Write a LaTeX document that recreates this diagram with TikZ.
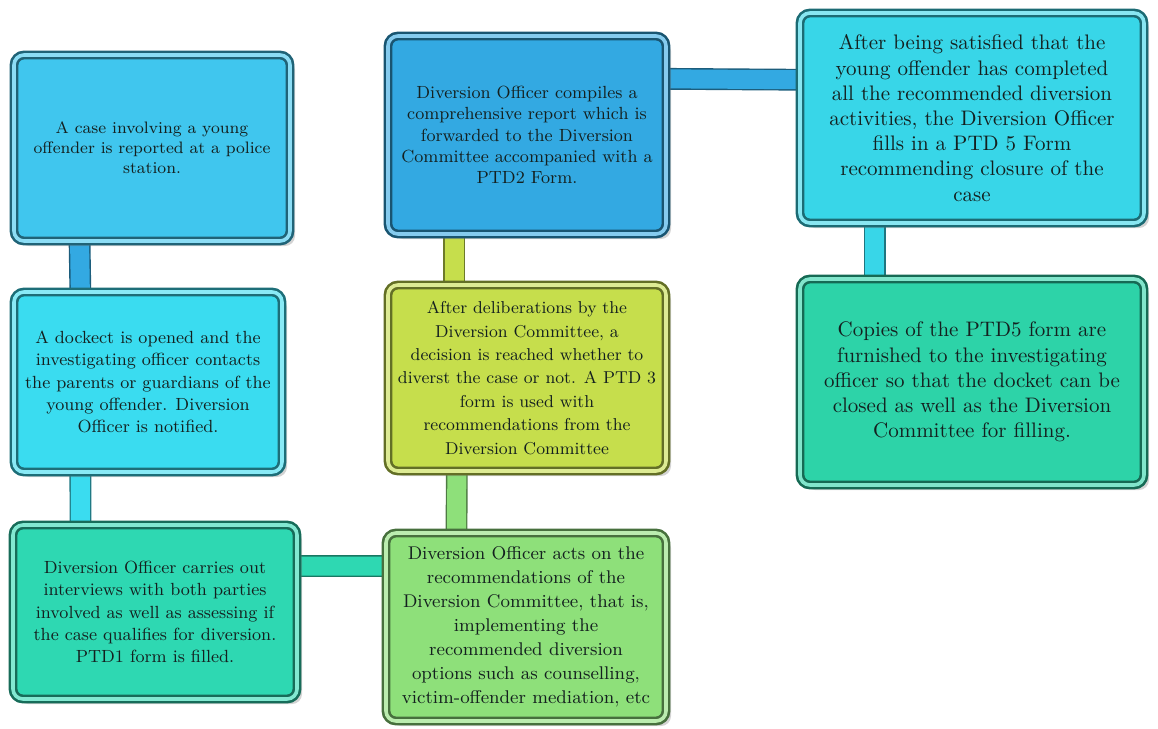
\documentclass[tikz,border=0pt]{standalone}
\usetikzlibrary{shadows,backgrounds,calc}

\definecolor{boxA}{HTML}{40C6EE}
\definecolor{boxB}{HTML}{3ADCF0}
\definecolor{boxC}{HTML}{2ED8B2}
\definecolor{boxD}{HTML}{33A9E2}
\definecolor{boxE}{HTML}{C6DE4C}
\definecolor{boxF}{HTML}{8EE07A}
\definecolor{boxG}{HTML}{38D6E8}
\definecolor{boxH}{HTML}{2DD3A8}
\definecolor{ink}{HTML}{14201F}

\tikzset{
    stepbox/.style={rectangle, rounded corners=5pt, fill=#1, draw=#1!50!black,
        double=#1!60!white, double distance=1.8pt, line width=1.3pt,
        align=center, text=ink, inner sep=2pt,
        drop shadow={opacity=0.35, shadow xshift=2.5pt, shadow yshift=-2.5pt}},
    bar/.style={draw=#1!55!black, double=#1, double distance=9.5pt, line width=0.7pt}
}

\begin{document}
\begin{tikzpicture}[x=0.5pt,y=-0.5pt]
        \useasboundingbox (0,0) rectangle (1158,729);
        % Columna izquierda
            \node[stepbox=boxA, minimum width=138pt, minimum height=93pt,
                font=\fontsize{8.3}{10}\selectfont] (report) at (152,148)
                {A case involving a young\\offender is reported at a police\\station.};
            \node[stepbox=boxB, minimum width=134pt, minimum height=90pt,
                font=\fontsize{8.8}{11.2}\selectfont] (docket) at (148,382)
                {A dockect is opened and the\\investigating officer contacts\\the parents or guardians of the\\young offender. Diversion\\Officer is notified.};
            \node[stepbox=boxC, minimum width=142pt, minimum height=87pt,
                font=\fontsize{8.8}{11.2}\selectfont] (interview) at (155,612)
                {Diversion Officer carries out\\interviews with both parties\\involved as well as assessing if\\the case qualifies for diversion.\\PTD1 form is filled.};
            % Columna central
            \node[stepbox=boxD, minimum width=139pt, minimum height=99pt,
                font=\fontsize{8.8}{10.6}\selectfont] (compile) at (527,135)
                {Diversion Officer compiles a\\comprehensive report which is\\forwarded to the Diversion\\Committee accompanied with a\\PTD2 Form.};
            \node[stepbox=boxE, minimum width=139pt, minimum height=93pt,
                font=\fontsize{8.6}{11.7}\selectfont] (decision) at (527,378)
                {After deliberations by the\\Diversion Committee, a\\decision is reached whether to\\diverst the case or not. A PTD 3\\form is used with\\recommendations from the\\Diversion Committee};
            \node[stepbox=boxF, minimum width=140pt, minimum height=94pt,
                font=\fontsize{9.2}{12}\selectfont] (acts) at (526,627)
                {Diversion Officer acts on the\\recommendations of the\\Diversion Committee, that is,\\implementing the\\recommended diversion\\options such as counselling,\\victim-offender mediation, etc};
            % Columna derecha
            \node[stepbox=boxG, minimum width=172pt, minimum height=105pt,
                font=\fontsize{10.5}{12.6}\selectfont] (closure) at (972,118)
                {After being satisfied that the\\young offender has completed\\all the recommended diversion\\activities, the Diversion Officer\\fills in a PTD 5 Form\\recommending closure of the\\case};
            \node[stepbox=boxH, minimum width=172pt, minimum height=103pt,
                font=\fontsize{10.5}{12.6}\selectfont] (copies) at (972,382)
                {Copies of the PTD5 form are\\furnished to the investigating\\officer so that the docket can be\\closed as well as the Diversion\\Committee for filling.};

            % Conectores
            \begin{scope}[on background layer]
            \draw[bar=boxD] ($(report.south west)!0.24!(report.south east)$) -- ($(docket.north west)!0.25!(docket.north east)$);
            \draw[bar=boxB] ($(docket.south west)!0.25!(docket.south east)$) -- ($(interview.north west)!0.24!(interview.north east)$);
            \draw[bar=boxC] ($(interview.north east)!0.24!(interview.south east)$) -- ($(acts.north west)!0.18!(acts.south west)$);
            \draw[bar=boxF] ($(acts.north west)!0.254!(acts.north east)$) -- ($(decision.south west)!0.25!(decision.south east)$);
            \draw[bar=boxE] ($(decision.north west)!0.24!(decision.north east)$) -- ($(compile.south west)!0.24!(compile.south east)$);
            \draw[bar=boxD] ($(compile.north east)!0.22!(compile.south east)$) -- ($(closure.north west)!0.32!(closure.south west)$);
            \draw[bar=boxG] ($(closure.south west)!0.22!(closure.south east)$) -- ($(copies.north west)!0.22!(copies.north east)$);
            \end{scope}
        \end{tikzpicture}
\end{document}
